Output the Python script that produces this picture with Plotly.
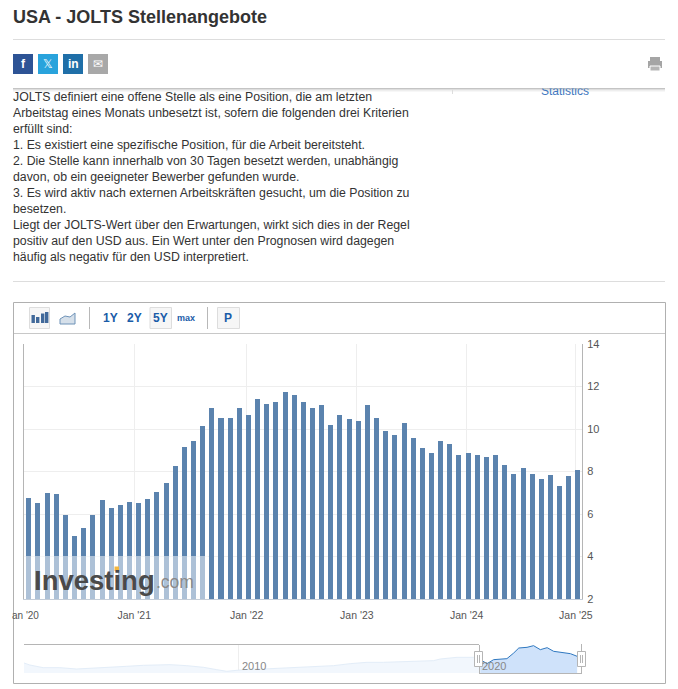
import plotly.graph_objects as go

# the page's body keeps its default 8px margin, so the figure sits 8px in from the window corner
OFF = 8
W, H = 678 - OFF, 689 - OFF
def X(p): return (p - OFF) / W
def Y(p): return 1 - (p - OFF) / H

# ---- data -------------------------------------------------------------
values = [6.74, 6.51, 6.98, 6.93, 5.94, 4.96, 5.33, 5.94, 6.65, 6.27, 6.41, 6.55,
          6.51, 6.69, 7.02, 7.45, 8.24, 9.14, 9.42, 10.12, 11.01, 10.54, 10.54, 11.01,
          10.68, 11.39, 11.2, 11.29, 11.76, 11.62, 11.25, 10.97, 11.11, 10.21, 10.64, 10.45,
          10.36, 11.15, 10.5, 9.89, 9.7, 10.26, 9.56, 9.09, 8.85, 9.42, 9.28, 8.8,
          8.85, 8.8, 8.66, 8.76, 8.29, 7.87, 8.15, 7.87, 7.63, 7.82, 7.3, 7.77, 8.05]
bar_index = list(range(len(values)))
x_tick_pos = [11.58, 23.86, 35.9, 47.9, 59.83]
x_tick_labels = ["Jan '21", "Jan '22", "Jan '23", "Jan '24", "Jan '25"]
y_ticks = [2, 4, 6, 8, 10, 12, 14]

nav_old_x = [2001.16, 2001.4, 2001.95, 2002.64, 2003.33, 2004.02, 2004.7, 2005.4, 2006.09, 2006.5,
             2007.19, 2007.88, 2008.57, 2009.12, 2009.53, 2009.95, 2010.5, 2011.05, 2011.6, 2012.28,
             2013.11, 2013.94, 2014.63, 2015.32, 2016.0, 2016.69, 2017.38, 2018.07, 2018.35, 2019.04,
             2019.72, 2020.0]
nav_old_y = [5, 4.2, 3.13, 3.13, 2.6, 2.87, 3.13, 3.67, 4.07, 4.07,
             4.33, 3.93, 3.27, 2.33, 1.67, 2.07, 2.6, 2.6, 2.87, 3.4,
             3.67, 3.93, 4.73, 5.27, 5.27, 5.53, 5.8, 5.93, 6.6, 7.27,
             7.27, 6.33]
nav_sel_x = [2020.0, 2020.28, 2020.55, 2021.1, 2021.38, 2021.59, 2021.93, 2022.2, 2022.48, 2022.76,
             2023.03, 2023.44, 2023.72, 2024.0]
nav_sel_y = [6.33, 4.73, 6.33, 6.73, 9, 11, 11.27, 11.93, 10.33, 11.13,
             9.67, 9, 8.73, 7.67]

body_lines = [
    "JOLTS definiert eine offene Stelle als eine Position, die am letzten",
    "Arbeitstag eines Monats unbesetzt ist, sofern die folgenden drei Kriterien",
    "erfüllt sind:",
    "1. Es existiert eine spezifische Position, für die Arbeit bereitsteht.",
    "2. Die Stelle kann innerhalb von 30 Tagen besetzt werden, unabhängig",
    "davon, ob ein geeigneter Bewerber gefunden wurde.",
    "3. Es wird aktiv nach externen Arbeitskräften gesucht, um die Position zu",
    "besetzen.",
    "Liegt der JOLTS-Wert über den Erwartungen, wirkt sich dies in der Regel",
    "positiv auf den USD aus. Ein Wert unter den Prognosen wird dagegen",
    "häufig als negativ für den USD interpretiert.",
]

FONT = "Liberation Sans, Arial, sans-serif"
BLUE = "#1a5ca8"
shapes, ann = [], []

def rect(x0, y0, x1, y1, fill=None, line=None, lw=1, layer="below"):
    shapes.append(dict(type="rect", xref="paper", yref="paper", x0=X(x0), x1=X(x1), y0=Y(y0), y1=Y(y1),
                       fillcolor=fill or "rgba(0,0,0,0)", line=dict(color=line or "rgba(0,0,0,0)", width=lw if line else 0),
                       layer=layer))

def hline(x0, x1, y, color, lw=1, layer="below"):
    shapes.append(dict(type="line", xref="paper", yref="paper", x0=X(x0), x1=X(x1), y0=Y(y), y1=Y(y),
                       line=dict(color=color, width=lw), layer=layer))

def vline(x, y0, y1, color, lw=1, layer="below"):
    shapes.append(dict(type="line", xref="paper", yref="paper", x0=X(x), x1=X(x), y0=Y(y0), y1=Y(y1),
                       line=dict(color=color, width=lw), layer=layer))

def text(x, y, s, size=12, color="#333333", anchor="left", bold=False):
    ann.append(dict(xref="paper", yref="paper", x=X(x), y=Y(y), text=f"<b>{s}</b>" if bold else s, showarrow=False,
                    xanchor=anchor, yanchor="middle", xshift=0, font=dict(family=FONT, size=size, color=color),
                    borderpad=0, borderwidth=0))

# header
text(13, 17.5, "USA - JOLTS Stellenangebote", 18, "#333333", bold=True)
hline(13, 665, 39.5, "#dddddd")
for x0, col, s in [(13, "#2d5395", "<b>f</b>"), (38, "#29a3dc", "𝕏"), (63, "#1f6fa8", "<b>in</b>"), (88, "#a8a8a8", "✉")]:
    rect(x0, 54, x0 + 20, 74, fill=col)
    text(x0 + 10, 64, s, 12, "white", anchor="center")
# printer
rect(650, 57, 660, 61, fill="#a5a5a5")
rect(648, 61, 662, 68, fill="#a5a5a5")
rect(650, 66, 660, 71, fill="#b5b5b5", line="#ffffff")
# sticky bar shadow
for i, c in enumerate(["#c4c4c4", "#dedede", "#eeeeee", "#f7f7f7"]):
    hline(13, 665, 88.5 + i, c)
vline(452.5, 89, 94, "#dddddd")

# body
for i, line in enumerate(body_lines):
    text(13, 97 + i * 16, line, 12.3, "#333333")
hline(13, 665, 281.5, "#dddddd")

# chart box
rect(13.5, 302.5, 665.5, 683.5, line="#b0b0b0")
hline(14, 665, 333.5, "#c8c8c8")
vline(89.5, 307, 329, "#b8b8b8")
vline(207.5, 307, 329, "#b8b8b8")
for x0, x1 in [(29, 49), (149.5, 171), (217, 239)]:
    rect(x0 + .5, 307.5, x1 + .5, 328.5, fill="#f6f6f6", line="#dddddd")
for x0, y0 in [(31.5, 315), (36, 317), (41, 313.5), (45.0, 312)]:
    rect(x0, y0, x0 + 3.4, 323, fill="#41699a")
shapes.append(dict(type="path", xref="paper", yref="paper",
                   path=f"M {X(60)} {Y(324)} L {X(60)} {Y(319)} L {X(65)} {Y(316)} L {X(70)} {Y(317)} L {X(75)} {Y(313)} L {X(75)} {Y(324)} Z",
                   fillcolor="#d6e0ea", line=dict(color="#6f93b8", width=1), layer="below"))
for x, s, size in [(110, "1Y", 12), (135, "2Y", 12), (160, "5Y", 12), (186, "max", 9), (228, "P", 12)]:
    text(x, 318, s, size, BLUE, anchor="center", bold=True)

# chart axis lines
vline(23.5, 344, 599, "#b5b5b5")
vline(582.5, 344, 599, "#b5b5b5")
hline(23, 583, 599.5, "#c4cdd8")

# watermark over bars
rect(24, 556, 208, 599, fill="rgba(255,255,255,0.5)", layer="above")
text(33.5, 580, "Investing", 27.5, "#4a4a4a", bold=True)
text(155.5, 582, ".com", 17.5, "#8a8a8a")
rect(114.5, 566.5, 119, 571, fill="#f4b73f", layer="above")

# first tick label is cut by the chart's edge
text(38.5, 615, "an '20", 10, "#555555", anchor="right")

# navigator furniture
hline(24, 479, 644.5, "#b5b5b5")
vline(238.5, 645, 673, "#eeeeee")
vline(479.5, 645, 674, "#b5b5b5", layer="above")
hline(479, 581, 673.5, "#b5b5b5", layer="above")
vline(581.5, 644, 674, "#b5b5b5", layer="above")
for hx in (478.5, 581.5):
    rect(hx - 4, 651.5, hx + 4, 666.5, fill="#ffffff", line="#b5b5b5", layer="above")
    vline(hx - 1, 655, 663, "#b5b5b5", layer="above")
    vline(hx + 1, 655, 663, "#b5b5b5", layer="above")
text(241.5, 666, "2010", 11, "#888888")
text(481.5, 666, "2020", 11, "#888888")

fig = go.Figure()
fig.add_trace(go.Bar(x=bar_index, y=values, width=0.55, marker=dict(color="#5b83ae", line=dict(width=0)),
                     hoverinfo="skip", showlegend=False))
fig.add_trace(go.Scatter(x=nav_old_x, y=nav_old_y, xaxis="x2", yaxis="y2", mode="lines", fill="tozeroy",
                         fillcolor="#f2f7fd", line=dict(color="#e3edf8", width=1), hoverinfo="skip", showlegend=False))
fig.add_trace(go.Scatter(x=nav_sel_x, y=nav_sel_y, xaxis="x2", yaxis="y2", mode="lines", fill="tozeroy",
                         fillcolor="#cfe2fa", line=dict(color="#2f78c0", width=1), hoverinfo="skip", showlegend=False))
# the link text cut off by the sticky header
fig.add_trace(go.Scatter(x=[0.5], y=[0.5], xaxis="x3", yaxis="y3", mode="text", text=["Statistics"],
                         textposition="middle center", cliponaxis=True,
                         textfont=dict(family=FONT, size=12, color="#3f78c0"), hoverinfo="skip", showlegend=False))

fig.update_layout(
    width=W, height=H, margin=dict(l=0, r=0, t=0, b=0, pad=0, autoexpand=False), autosize=False,
    paper_bgcolor="white", plot_bgcolor="rgba(0,0,0,0)", showlegend=False, bargap=0,
    font=dict(family=FONT, color="#555555"),
    xaxis=dict(domain=[X(23.5), X(582)], range=[-0.525, 60.5], tickmode="array",
               tickvals=[-0.69] + x_tick_pos, ticktext=[""] + x_tick_labels,
               showgrid=True, gridcolor="#eeeeee", gridwidth=1, zeroline=False, showline=False,
               ticks="outside", ticklen=6, tickcolor="rgba(0,0,0,0)", tickangle=0,
               tickfont=dict(family=FONT, size=10.5, color="#555555"), fixedrange=True),
    yaxis=dict(domain=[Y(599), Y(344)], range=[2, 14], side="right", tickmode="array", tickvals=y_ticks,
               showgrid=True, gridcolor="#eeeeee", gridwidth=1, zeroline=False, showline=False,
               ticks="outside", ticklen=2, tickcolor="rgba(0,0,0,0)",
               tickfont=dict(family=FONT, size=11, color="#555555"), fixedrange=True),
    xaxis2=dict(domain=[X(24), X(582)], range=[2001.16, 2024.2], anchor="y2", visible=False, fixedrange=True),
    yaxis2=dict(domain=[Y(673), Y(645)], range=[1, 12.2], anchor="x2", visible=False, fixedrange=True),
    xaxis3=dict(domain=[X(530), X(600)], range=[0, 1], anchor="y3", visible=False, fixedrange=True),
    yaxis3=dict(domain=[Y(99), Y(88.5)], range=[-0.16, 0.84], anchor="x3", visible=False, fixedrange=True),
    shapes=shapes, annotations=ann,
)
fig.write_html("out.html", config=dict(displayModeBar=False), default_width=W - OFF, default_height=H - OFF)
